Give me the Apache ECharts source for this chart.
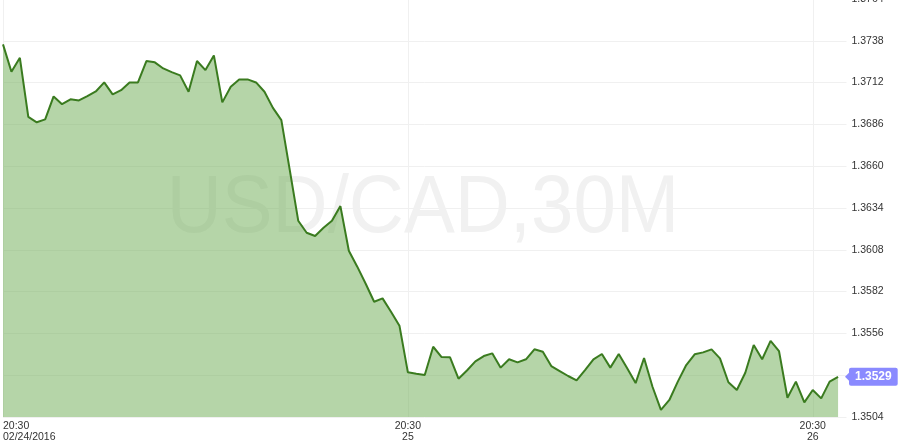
<!DOCTYPE html>
<html>
<head>
<meta charset="utf-8">
<script src="https://cdn.jsdelivr.net/npm/echarts@6/dist/echarts.min.js"></script>
<style>html,body{margin:0;padding:0;background:#fff}#c{width:900px;height:448px}</style>
</head>
<body>
<div id="c"></div>
<script>
// ---- data ----
const categories = [
 '02/24 20:30','02/24 21:00','02/24 21:30','02/24 22:00','02/24 22:30','02/24 23:00','02/24 23:30',
 '02/25 00:00','02/25 00:30','02/25 01:00','02/25 01:30','02/25 02:00','02/25 02:30','02/25 03:00','02/25 03:30',
 '02/25 04:00','02/25 04:30','02/25 05:00','02/25 05:30','02/25 06:00','02/25 06:30','02/25 07:00','02/25 07:30',
 '02/25 08:00','02/25 08:30','02/25 09:00','02/25 09:30','02/25 10:00','02/25 10:30','02/25 11:00','02/25 11:30',
 '02/25 12:00','02/25 12:30','02/25 13:00','02/25 13:30','02/25 14:00','02/25 14:30','02/25 15:00','02/25 15:30',
 '02/25 16:00','02/25 16:30','02/25 17:00','02/25 17:30','02/25 18:00','02/25 18:30','02/25 19:00','02/25 19:30',
 '02/25 20:00','02/25 20:30','02/25 21:00','02/25 21:30','02/25 22:00','02/25 22:30','02/25 23:00','02/25 23:30',
 '02/26 00:00','02/26 00:30','02/26 01:00','02/26 01:30','02/26 02:00','02/26 02:30','02/26 03:00','02/26 03:30',
 '02/26 04:00','02/26 04:30','02/26 05:00','02/26 05:30','02/26 06:00','02/26 06:30','02/26 07:00','02/26 07:30',
 '02/26 08:00','02/26 08:30','02/26 09:00','02/26 09:30','02/26 10:00','02/26 10:30','02/26 11:00','02/26 11:30',
 '02/26 12:00','02/26 12:30','02/26 13:00','02/26 13:30','02/26 14:00','02/26 14:30','02/26 15:00','02/26 15:30',
 '02/26 16:00','02/26 16:30','02/26 17:00','02/26 17:30','02/26 18:00','02/26 18:30','02/26 19:00','02/26 19:30',
 '02/26 20:00','02/26 20:30','02/26 21:00','02/26 21:30','02/26 22:00','02/26 22:30'
];
const prices = [
 1.37358,1.37187,1.37274,1.36907,1.36873,1.36891,1.37034,1.36986,1.37016,1.37009,
 1.37036,1.37065,1.37121,1.37047,1.37073,1.37121,1.37121,1.37254,1.37246,1.37208,
 1.37185,1.37165,1.37063,1.37254,1.37198,1.37289,1.36997,1.37094,1.37140,1.37140,
 1.37121,1.37063,1.36963,1.36887,1.36576,1.36261,1.36186,1.36166,1.36217,1.36261,
 1.36352,1.36074,1.35975,1.35869,1.35757,1.35778,1.35695,1.35608,1.35318,1.35309,
 1.35301,1.35477,1.35413,1.35411,1.35278,1.35329,1.35386,1.35419,1.35436,1.35347,
 1.35399,1.35380,1.35399,1.35461,1.35446,1.35357,1.35326,1.35295,1.35268,1.35332,
 1.35399,1.35432,1.35347,1.35432,1.35343,1.35251,1.35407,1.35228,1.35084,1.35146,
 1.35260,1.35363,1.35430,1.35442,1.35461,1.35405,1.35256,1.35208,1.35315,1.35488,
 1.35399,1.35513,1.35450,1.35160,1.35260,1.35131,1.35208,1.35156,1.35260,1.35290
];
const tickCategories = ['02/24 20:30','02/25 20:30','02/26 20:30'];
const tickLabels = ['20:30\n02/24/2016','20:30\n25','20:30\n26'];
const yMin = 1.3504, yMax = 1.3764, yStep = 0.0026;
const lastPrice = 1.3529;
const hiddenYLabel = 1.3530;
const watermark = 'USD/CAD,30M';

// ---- chart ----
const FONT = '"Liberation Sans", Arial, sans-serif';
const base = yMin;
const chart = echarts.init(document.getElementById('c'), null, {renderer: 'canvas'});
const isTick = (idx) => tickCategories.indexOf(categories[idx]) >= 0;
const gridColor = '#f0f0f0';

chart.setOption({
  animation: false,
  backgroundColor: '#fff',
  grid: {left: 3, right: 53.5, top: -1, bottom: 31, containLabel: false, outerBoundsMode: 'none'},
  graphic: [{
    type: 'text', z: 1, silent: true,
    x: 423, y: 209, scaleX: 0.93, originX: 0,
    style: {text: watermark, fill: '#f1f1f1', font: '82px ' + FONT,
            align: 'center', verticalAlign: 'middle', textAlign: 'center', textVerticalAlign: 'middle'}
  }],
  xAxis: {
    type: 'category', data: categories, boundaryGap: false,
    axisLine: {show: false}, axisTick: {show: false},
    splitLine: {show: true, interval: (idx) => isTick(idx), lineStyle: {color: gridColor, width: 1}},
    axisLabel: {
      interval: (idx) => isTick(idx), alignMinLabel: 'left', showMinLabel: true, hideOverlap: false,
      margin: 4, color: '#333', fontFamily: FONT, fontSize: 10.5, lineHeight: 11,
      formatter: (val) => { const k = tickCategories.indexOf(val); return k >= 0 ? tickLabels[k] : ''; }
    }
  },
  yAxis: {
    type: 'value', position: 'right', scale: false,
    min: 0, max: +(yMax - base).toFixed(4), interval: yStep,
    axisLine: {show: false}, axisTick: {show: false},
    splitLine: {show: true, lineStyle: {color: gridColor, width: 1}},
    axisLabel: {
      margin: 5, color: '#333', fontFamily: FONT, fontSize: 10.5, showMinLabel: true, showMaxLabel: true,
      formatter: (v) => { const r = v + base; return Math.abs(r - hiddenYLabel) < 1e-6 ? '' : r.toFixed(4); }
    }
  },
  series: [{
    type: 'line', z: 2,
    data: prices.map(p => +(p - base).toFixed(6)),
    showSymbol: false, symbol: 'none', smooth: false,
    lineStyle: {color: '#3a7b1f', width: 2},
    itemStyle: {color: '#3a7b1f'},
    areaStyle: {color: 'rgba(107,171,81,0.5)', opacity: 1, origin: 'start'},
    markPoint: {
      silent: true,
      data: [{coord: [categories[categories.length - 1], +(lastPrice - base).toFixed(6)]}],
      symbol: 'triangle', symbolRotate: 90, symbolSize: [8, 4], symbolOffset: [0.5, 0],
      itemStyle: {color: '#8a8aff'},
      label: {
        show: true, position: 'right', distance: 0,
        formatter: () => lastPrice.toFixed(4),
        color: '#fff', fontWeight: 'bold', fontSize: 12, fontFamily: FONT,
        backgroundColor: '#8a8aff', borderRadius: 2, padding: [3, 6, 3, 6], lineHeight: 12
      }
    }
  }]
});
</script>
</body>
</html>
